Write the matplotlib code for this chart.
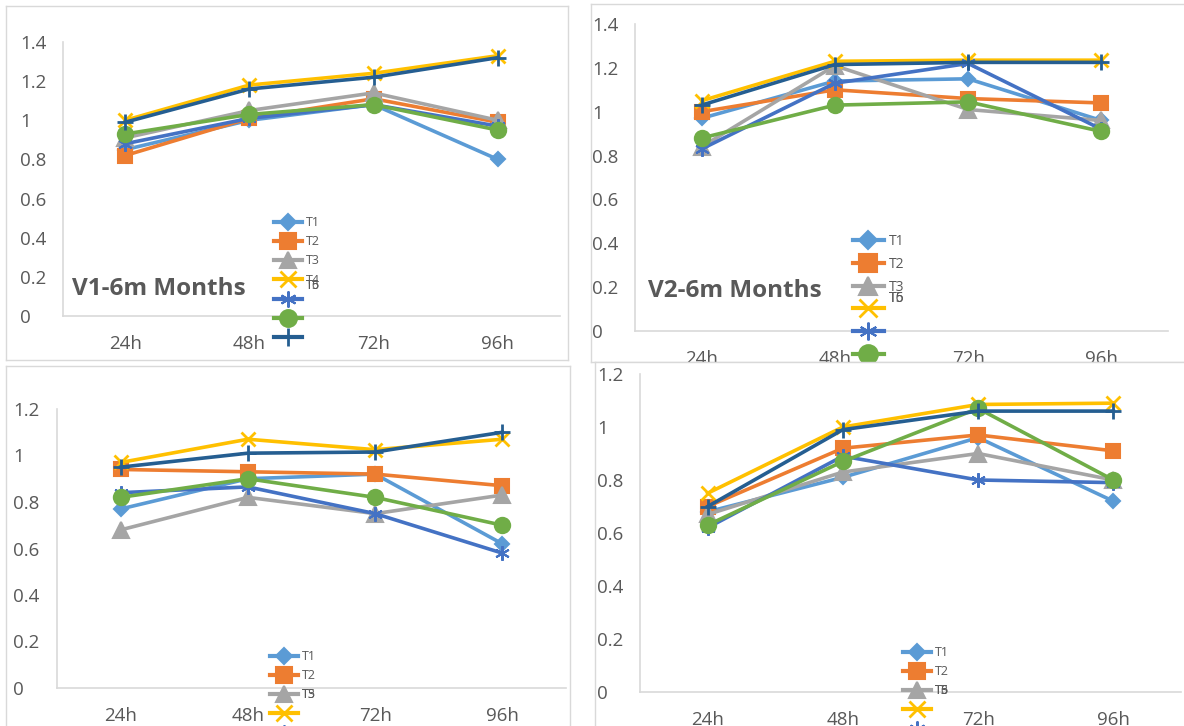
import matplotlib
matplotlib.use("Agg")
import matplotlib.pyplot as plt
import numpy as np
from matplotlib.lines import Line2D

W, H = 1184, 726

categories = ["24h", "48h", "72h", "96h"]
series_names = ["T1", "T2", "T3", "T4", "T5", "T6", "T7"]
series_colors = ["#5B9BD5", "#ED7D31", "#A5A5A5", "#FFC000", "#4472C4", "#70AD47", "#255E91"]
series_markers = ["D", "s", "^", "x", (6, 2, 0), "o", "+"]
marker_sizes = [7.5, 10.5, 11, 10.5, 10.5, 11, 12]

# V1-6m Months (top left)
v1_values = [
    [0.85, 1.00, 1.08, 0.80],
    [0.82, 1.01, 1.11, 0.99],
    [0.91, 1.05, 1.14, 1.00],
    [1.00, 1.18, 1.24, 1.33],
    [0.88, 1.01, 1.08, 0.97],
    [0.93, 1.03, 1.08, 0.95],
    [0.99, 1.16, 1.22, 1.32],
]
# V2-6m Months (top right)
v2_values = [
    [0.97, 1.14, 1.15, 0.96],
    [1.00, 1.10, 1.06, 1.04],
    [0.84, 1.21, 1.01, 0.96],
    [1.05, 1.23, 1.235, 1.235],
    [0.83, 1.13, 1.22, 0.92],
    [0.88, 1.03, 1.045, 0.91],
    [1.03, 1.215, 1.225, 1.225],
]
# bottom left
v3_values = [
    [0.77, 0.90, 0.92, 0.62],
    [0.94, 0.93, 0.92, 0.87],
    [0.68, 0.82, 0.75, 0.83],
    [0.97, 1.07, 1.025, 1.07],
    [0.84, 0.865, 0.75, 0.58],
    [0.82, 0.90, 0.82, 0.70],
    [0.95, 1.01, 1.015, 1.10],
]
# bottom right
v4_values = [
    [0.68, 0.81, 0.96, 0.72],
    [0.70, 0.92, 0.97, 0.91],
    [0.67, 0.83, 0.90, 0.80],
    [0.75, 1.00, 1.085, 1.09],
    [0.62, 0.89, 0.80, 0.79],
    [0.63, 0.87, 1.07, 0.80],
    [0.70, 0.99, 1.06, 1.06],
]

panel_titles = ["V1-6m Months", "V2-6m Months", None, None]
panel_ymax = [1.4, 1.4, 1.2, 1.2]

# layout in pixels: frame box, axes box, y-label left, title pos, legend anchor
panels = [
    dict(values=v1_values, frame=(6, 6, 568, 360), axes=(63, 42, 560, 316), ylab_x=20,
         title_xy=(72, 289), leg_xy=(274, 216), leg_fs=9, leg_pitch=19.5,
         labels=["T1", "T2", "T3", "T4", "", "", ""], overlap=(3, ["T5", "T6"], -4)),
    dict(values=v2_values, frame=(591, 4, 1200, 362), axes=(635, 24, 1168, 331), ylab_x=592,
         title_xy=(648, 291), leg_xy=(853, 234), leg_fs=10, leg_pitch=22.5,
         labels=["T1", "T2", "T3", "", "", "", ""], overlap=(2, ["T5", "T6"], -8)),
    dict(values=v3_values, frame=(6, 366, 570, 740), axes=(57, 409, 566, 688), ylab_x=13,
         title_xy=None, leg_xy=(270, 650), leg_fs=9, leg_pitch=19.5,
         labels=["T1", "T2", "T3", "", "", "", ""], overlap=(2, ["T5"], 0)),
    dict(values=v4_values, frame=(595, 362, 1200, 740), axes=(640, 374, 1181, 692), ylab_x=597,
         title_xy=None, leg_xy=(903, 646), leg_fs=9, leg_pitch=19.5,
         labels=["T1", "T2", "T3", "", "", "", ""], overlap=(2, ["T5", "T6"], 0)),
]

plt.rcParams["font.family"] = ["Open Sans", "DejaVu Sans"]
TXT = "#595959"
GRID = "#D9D9D9"


def px_rect(left, top, right, bottom):
    return [left / W, 1 - bottom / H, (right - left) / W, (bottom - top) / H]


fig = plt.figure(figsize=(W / 100, H / 100), dpi=100)
fig.patch.set_facecolor("white")

for i, p in enumerate(panels):
    frame = fig.add_axes(px_rect(*p["frame"]), zorder=2 * i)
    frame.set_xticks([])
    frame.set_yticks([])
    frame.set_facecolor("white")
    for s in frame.spines.values():
        s.set_color(GRID)
        s.set_linewidth(1)

    ax = fig.add_axes(px_rect(*p["axes"]), zorder=2 * i + 1)
    ax.patch.set_alpha(0)
    x = np.arange(len(categories))
    handles = []
    for vals, color, mk, ms in zip(p["values"], series_colors, series_markers, marker_sizes):
        mew = 2.0 if mk in ("x", "+") else 1.5
        ax.plot(x, vals, color=color, lw=2.6, marker=mk, markersize=ms,
                markeredgewidth=mew, markeredgecolor=color, clip_on=False,
                solid_joinstyle="round")
        scale = 1.1 * p["leg_fs"] / 9
        handles.append(Line2D([], [], color=color, lw=3.0, marker=mk,
                              markersize=ms * scale, markeredgewidth=mew,
                              markeredgecolor=color))

    ymax = panel_ymax[i]
    ax.set_xlim(-0.5, len(categories) - 0.5)
    ax.set_ylim(0, ymax)
    yt = np.round(np.arange(0, ymax + 0.001, 0.2), 1)
    ax.set_yticks(yt, [f"{v:g}" for v in yt])
    ax.set_xticks(x, categories)
    for s in ("top", "right"):
        ax.spines[s].set_visible(False)
    for s in ("left", "bottom"):
        ax.spines[s].set_color(GRID)
        ax.spines[s].set_linewidth(1.2)
    ypad = (p["axes"][0] - p["ylab_x"]) * 72 / 100
    ax.tick_params(axis="y", length=0, labelsize=13.5, labelcolor=TXT, pad=ypad)
    ax.tick_params(axis="x", length=0, labelsize=13.5, labelcolor=TXT, pad=14)
    for lbl in ax.get_yticklabels():
        lbl.set_horizontalalignment("left")

    if panel_titles[i]:
        tx, ty = p["title_xy"]
        ax.text(tx / W, 1 - ty / H, panel_titles[i], transform=fig.transFigure,
                fontsize=17.5, fontweight="bold", color=TXT, va="center", ha="left")

    fs = p["leg_fs"]
    text_h = fs * 100 / 72 * 1.06
    spacing = (p["leg_pitch"] - text_h) / (fs * 100 / 72)
    lx, ly = p["leg_xy"]
    leg = ax.legend(handles, p["labels"], loc="upper left",
                    bbox_to_anchor=(lx / W, 1 - ly / H), bbox_transform=fig.transFigure,
                    frameon=False, fontsize=fs, handlelength=2.2, handletextpad=0.35,
                    labelspacing=spacing, borderpad=0, borderaxespad=0)
    for t in leg.get_texts():
        t.set_color(TXT)
    # labels that Excel stacked on top of each other when the legend overflowed
    row, extra, dy = p["overlap"]
    anchor = leg.get_texts()[row]
    for lbl in extra:
        ax.annotate(lbl, xy=(0, 0), xycoords=anchor, xytext=(0, dy),
                    textcoords="offset points", fontsize=fs, color=TXT,
                    ha="left", va="bottom", annotation_clip=False, zorder=6)

fig.savefig("out.png", dpi=100, facecolor="white")
